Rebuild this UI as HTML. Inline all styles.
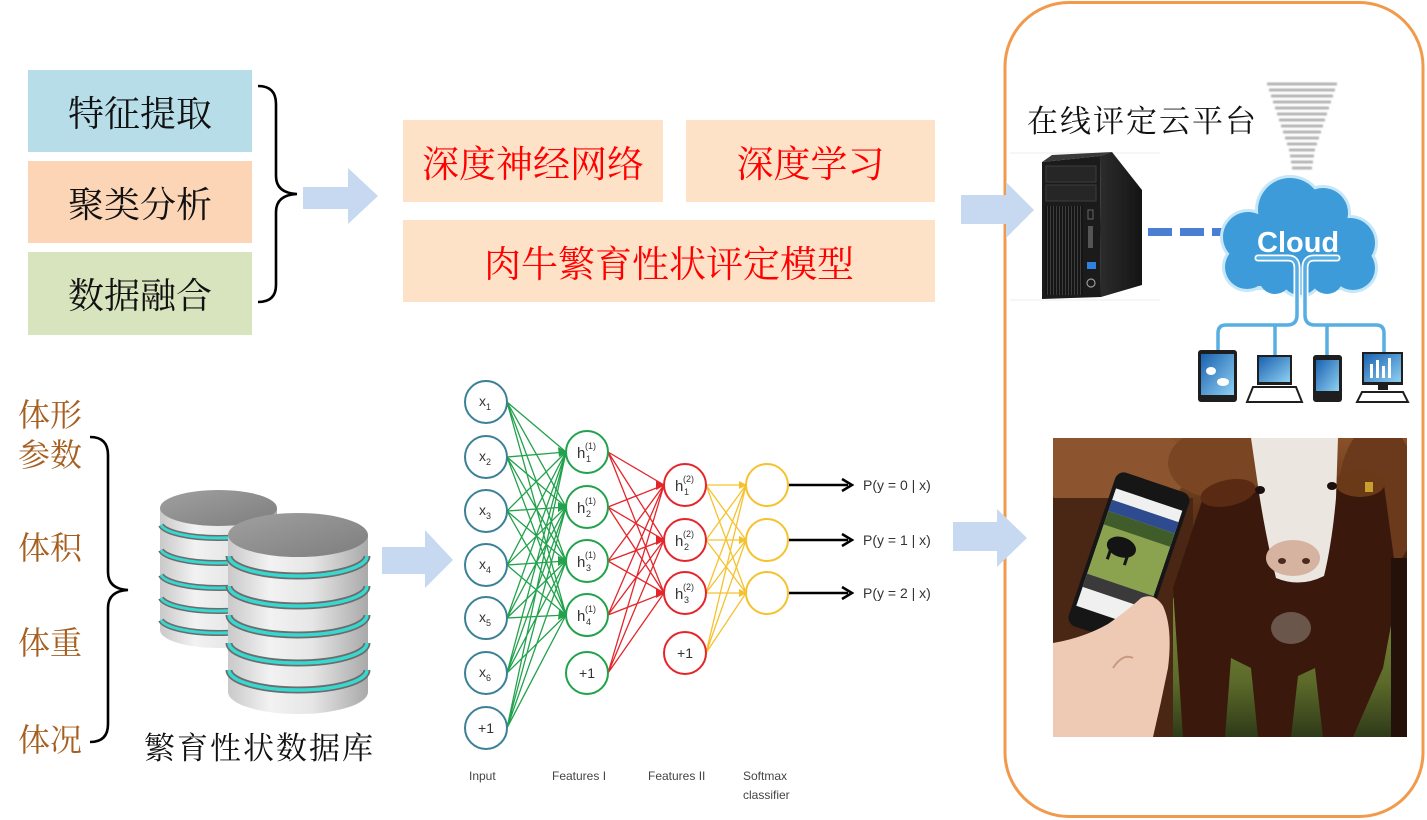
<!DOCTYPE html>
<html><head><meta charset="utf-8">
<style>
html,body{margin:0;padding:0;background:#fff;}
#c{position:relative;width:1427px;height:820px;overflow:hidden;background:#fff;}
.b{position:absolute;display:flex;align-items:center;justify-content:center;font-family:"Liberation Serif","Noto Serif CJK SC",serif;white-space:nowrap;}
.k{color:#111;font-size:36px;}
.r{color:#f00;font-size:37px;background:#fde2c7;}
.t{position:absolute;font-family:"Liberation Serif","Noto Serif CJK SC",serif;white-space:nowrap;line-height:1;}
.br{color:#a65f20;font-size:32px;}
svg{position:absolute;left:0;top:0;}
</style></head><body><div id="c">
<svg width="1427" height="820" viewBox="0 0 1427 820" xmlns="http://www.w3.org/2000/svg">
<defs>
<linearGradient id="cyl" x1="0" x2="1" y1="0" y2="0">
<stop offset="0" stop-color="#c9c9c9"/><stop offset="0.3" stop-color="#f2f2f2"/><stop offset="0.6" stop-color="#e6e6e6"/><stop offset="1" stop-color="#a9a9a9"/></linearGradient>
<linearGradient id="ctop" x1="0" x2="1" y1="0" y2="1">
<stop offset="0" stop-color="#a0a0a0"/><stop offset="1" stop-color="#7e7e7e"/></linearGradient>
<linearGradient id="scr" x1="0" x2="1" y1="0" y2="1">
<stop offset="0" stop-color="#1a62b0"/><stop offset="1" stop-color="#8fd0f2"/></linearGradient>
<linearGradient id="side" x1="0" x2="1"><stop offset="0" stop-color="#2c2c2c"/><stop offset="1" stop-color="#141414"/></linearGradient>
<linearGradient id="cowTop" x1="0" x2="0" y1="0" y2="1"><stop offset="0" stop-color="#8a5129"/><stop offset="1" stop-color="#45220f"/></linearGradient>
<linearGradient id="grass" x1="0" x2="0" y1="0" y2="1"><stop offset="0" stop-color="#7d8c3c"/><stop offset="0.6" stop-color="#5c6a2a"/><stop offset="1" stop-color="#2f3a18"/></linearGradient>
<filter id="bl"><feGaussianBlur stdDeviation="0.9"/></filter>
<pattern id="vent" width="3" height="10" patternUnits="userSpaceOnUse"><rect width="3" height="10" fill="#151515"/><rect width="1" height="10" fill="#3d3d3d"/></pattern>
</defs>

<!-- orange frame -->
<rect x="1005" y="2.5" width="418" height="814" rx="64" fill="none" stroke="#f29a4c" stroke-width="3"/>

<!-- braces -->
<path d="M258,86 Q276,86 276,104 L276,176 Q276,193 297,194 Q276,195 276,212 L276,285 Q276,302 258,302" fill="none" stroke="#000" stroke-width="2.6"/>
<path d="M90,437 Q108,437 108,455 L108,572 Q108,589 128,590 Q108,591 108,608 L108,724 Q108,742 90,742" fill="none" stroke="#000" stroke-width="2.6"/>

<!-- block arrows -->
<g fill="#c6d9f0">
<polygon points="303,187 348,187 348,168 378,196 348,224 348,209 303,209"/>
<polygon points="382,547 425,547 425,530 453,560 425,588 425,574 382,574"/>
<polygon points="961,195 1006,195 1006,182 1034,210 1006,238 1006,224 961,224"/>
<polygon points="953,522 997,522 997,509 1027,538 997,567 997,551 953,551"/>
</g>

<!-- database cylinders -->
<g>
<rect x="160" y="508" width="117" height="122" fill="url(#cyl)"/>
<ellipse cx="218.5" cy="630" rx="58.5" ry="18" fill="url(#cyl)"/>
<g fill="none">
<path d="M161,525 A58 15 0 0 0 276,525" stroke="#6c6c6c" stroke-width="6"/><path d="M161,525 A58 15 0 0 0 276,525" stroke="#36d8cf" stroke-width="3"/>
<path d="M161,550 A58 15 0 0 0 276,550" stroke="#6c6c6c" stroke-width="6"/><path d="M161,550 A58 15 0 0 0 276,550" stroke="#36d8cf" stroke-width="3"/>
<path d="M161,575 A58 15 0 0 0 276,575" stroke="#6c6c6c" stroke-width="6"/><path d="M161,575 A58 15 0 0 0 276,575" stroke="#36d8cf" stroke-width="3"/>
<path d="M161,598 A58 15 0 0 0 276,598" stroke="#6c6c6c" stroke-width="6"/><path d="M161,598 A58 15 0 0 0 276,598" stroke="#36d8cf" stroke-width="3"/>
<path d="M161,620 A58 15 0 0 0 276,620" stroke="#6c6c6c" stroke-width="6"/><path d="M161,620 A58 15 0 0 0 276,620" stroke="#36d8cf" stroke-width="3"/>
</g>
<ellipse cx="218.5" cy="508" rx="58.5" ry="18" fill="url(#ctop)"/>

<rect x="228" y="535" width="140" height="157" fill="url(#cyl)"/>
<ellipse cx="298" cy="692" rx="70" ry="22" fill="url(#cyl)"/>
<g fill="none">
<path d="M229,556 A69 20 0 0 0 367,556" stroke="#6c6c6c" stroke-width="7"/><path d="M229,556 A69 20 0 0 0 367,556" stroke="#36d8cf" stroke-width="3.5"/>
<path d="M229,586 A69 20 0 0 0 367,586" stroke="#6c6c6c" stroke-width="7"/><path d="M229,586 A69 20 0 0 0 367,586" stroke="#36d8cf" stroke-width="3.5"/>
<path d="M229,615 A69 20 0 0 0 367,615" stroke="#6c6c6c" stroke-width="7"/><path d="M229,615 A69 20 0 0 0 367,615" stroke="#36d8cf" stroke-width="3.5"/>
<path d="M229,643 A69 20 0 0 0 367,643" stroke="#6c6c6c" stroke-width="7"/><path d="M229,643 A69 20 0 0 0 367,643" stroke="#36d8cf" stroke-width="3.5"/>
<path d="M229,670 A69 20 0 0 0 367,670" stroke="#6c6c6c" stroke-width="7"/><path d="M229,670 A69 20 0 0 0 367,670" stroke="#36d8cf" stroke-width="3.5"/>
</g>
<ellipse cx="298" cy="535" rx="70" ry="22" fill="url(#ctop)"/>
</g>

<!-- neural network -->
<g fill="none" stroke-width="1.3">
<path stroke="#22a24c" d="M507 402L566 452M507 402L566 507M507 402L566 561M507 402L566 615M507 457L566 452M507 457L566 507M507 457L566 561M507 457L566 615M507 511L566 452M507 511L566 507M507 511L566 561M507 511L566 615M507 565L566 452M507 565L566 507M507 565L566 561M507 565L566 615M507 618L566 452M507 618L566 507M507 618L566 561M507 618L566 615M507 673L566 452M507 673L566 507M507 673L566 561M507 673L566 615M507 728L566 452M507 728L566 507M507 728L566 561M507 728L566 615"/>
<path stroke="#e4262b" d="M608 452L664 485M608 452L664 540M608 452L664 593M608 507L664 485M608 507L664 540M608 507L664 593M608 561L664 485M608 561L664 540M608 561L664 593M608 615L664 485M608 615L664 540M608 615L664 593M608 673L664 485M608 673L664 540M608 673L664 593"/>
<path stroke="#f5c22e" d="M706 485L746 485M706 485L746 540M706 485L746 593M706 540L746 485M706 540L746 540M706 540L746 593M706 593L746 485M706 593L746 540M706 593L746 593M706 653L746 485M706 653L746 540M706 653L746 593"/>
</g>
<g fill="#22a24c">
<polygon points="567,452 558,447 559,457"/><polygon points="567,507 558,502 558,512"/><polygon points="567,561 558,556 558,566"/><polygon points="567,615 559,610 558,620"/>
</g>
<g fill="#e4262b">
<polygon points="665,485 656,480 656,490"/><polygon points="665,540 656,535 656,545"/><polygon points="665,593 656,588 656,598"/>
</g>
<g fill="#f5c22e">
<polygon points="747,485 739,481 739,489"/><polygon points="747,540 739,536 739,544"/><polygon points="747,593 739,589 739,597"/>
</g>
<g stroke="#000" stroke-width="2.5">
<line x1="788" y1="485" x2="848" y2="485"/><line x1="788" y1="540" x2="848" y2="540"/><line x1="788" y1="593" x2="848" y2="593"/>
</g>
<g fill="none" stroke="#000" stroke-width="2.5">
<polyline points="842,479 852,485 842,491"/><polyline points="842,534 852,540 842,546"/><polyline points="842,587 852,593 842,599"/>
</g>
<g fill="#fff" stroke-width="2">
<g stroke="#3a8196">
<circle cx="486" cy="402" r="21"/><circle cx="486" cy="457" r="21"/><circle cx="486" cy="511" r="21"/><circle cx="486" cy="565" r="21"/><circle cx="486" cy="618" r="21"/><circle cx="486" cy="673" r="21"/><circle cx="486" cy="728" r="21"/>
</g>
<g stroke="#22a24c">
<circle cx="587" cy="452" r="21"/><circle cx="587" cy="507" r="21"/><circle cx="587" cy="561" r="21"/><circle cx="587" cy="615" r="21"/><circle cx="587" cy="673" r="21"/>
</g>
<g stroke="#e4262b">
<circle cx="685" cy="485" r="21"/><circle cx="685" cy="540" r="21"/><circle cx="685" cy="593" r="21"/><circle cx="685" cy="653" r="21"/>
</g>
<g stroke="#f5c22e">
<circle cx="767" cy="485" r="21"/><circle cx="767" cy="540" r="21"/><circle cx="767" cy="593" r="21"/>
</g>
</g>
<g font-family="Liberation Sans, sans-serif" fill="#333" font-size="14">
<text x="479" y="406">x<tspan font-size="9" dy="4">1</tspan></text>
<text x="479" y="461">x<tspan font-size="9" dy="4">2</tspan></text>
<text x="479" y="515">x<tspan font-size="9" dy="4">3</tspan></text>
<text x="479" y="569">x<tspan font-size="9" dy="4">4</tspan></text>
<text x="479" y="622">x<tspan font-size="9" dy="4">5</tspan></text>
<text x="479" y="677">x<tspan font-size="9" dy="4">6</tspan></text>
<text x="486" y="733" text-anchor="middle">+1</text>
<text x="587" y="678" text-anchor="middle">+1</text>
<text x="685" y="658" text-anchor="middle">+1</text>
<g font-size="15">
<text x="577" y="458">h</text><text x="577" y="513">h</text><text x="577" y="567">h</text><text x="577" y="621">h</text>
<text x="675" y="491">h</text><text x="675" y="546">h</text><text x="675" y="599">h</text>
</g>
<g font-size="9">
<text x="585" y="449">(1)</text><text x="586" y="462">1</text>
<text x="585" y="504">(1)</text><text x="586" y="517">2</text>
<text x="585" y="558">(1)</text><text x="586" y="571">3</text>
<text x="585" y="612">(1)</text><text x="586" y="625">4</text>
<text x="683" y="482">(2)</text><text x="684" y="495">1</text>
<text x="683" y="537">(2)</text><text x="684" y="550">2</text>
<text x="683" y="590">(2)</text><text x="684" y="603">3</text>
</g>
<g font-size="14">
<text x="863" y="490">P(y = 0 | x)</text>
<text x="863" y="545">P(y = 1 | x)</text>
<text x="863" y="598">P(y = 2 | x)</text>
</g>
<g font-size="12" fill="#444">
<text x="469" y="780">Input</text>
<text x="552" y="780">Features I</text>
<text x="648" y="780">Features II</text>
<text x="743" y="780">Softmax</text>
<text x="743" y="799">classifier</text>
</g>
</g>

<!-- server -->
<line x1="1010" y1="153" x2="1160" y2="153" stroke="#eee" stroke-width="1"/>
<line x1="1010" y1="300" x2="1160" y2="300" stroke="#eee" stroke-width="1"/>
<polygon points="1100,156 1112,152 1142,190 1142,285 1101,297" fill="url(#side)"/>
<polygon points="1042,162 1052,155 1112,152 1100,156" fill="#3a3a3a"/>
<polygon points="1042,162 1100,156 1101,297 1042,299" fill="#1b1b1b"/>
<rect x="1046" y="166" width="50" height="16" fill="#262626" stroke="#3c3c3c"/>
<rect x="1046" y="185" width="50" height="16" fill="#262626" stroke="#3c3c3c"/>
<rect x="1045" y="206" width="38" height="89" fill="url(#vent)"/>
<rect x="1088" y="210" width="5" height="9" fill="none" stroke="#666" stroke-width="1"/>
<rect x="1088" y="226" width="5" height="22" fill="#555"/>
<rect x="1087" y="262" width="9" height="7" fill="#2f80e0"/>
<circle cx="1091" cy="283" r="4" fill="none" stroke="#999" stroke-width="1.2"/>

<!-- dashed link -->
<line x1="1148" y1="232" x2="1256" y2="232" stroke="#4a7ed0" stroke-width="8" stroke-dasharray="24 8"/>

<!-- signal waves -->
<g stroke="#b5b5b5" stroke-width="3" filter="url(#bl)">
<line x1="1267" y1="84" x2="1337" y2="84"/><line x1="1269" y1="90" x2="1335" y2="90"/><line x1="1271" y1="96" x2="1333" y2="96"/><line x1="1273" y1="102" x2="1331" y2="102"/><line x1="1275" y1="108" x2="1329" y2="108"/><line x1="1277" y1="114" x2="1327" y2="114"/><line x1="1279" y1="120" x2="1325" y2="120"/><line x1="1281" y1="126" x2="1323" y2="126"/><line x1="1283" y1="132" x2="1321" y2="132"/><line x1="1285" y1="138" x2="1319" y2="138"/><line x1="1287" y1="144" x2="1317" y2="144"/><line x1="1289" y1="150" x2="1315" y2="150"/><line x1="1290" y1="156" x2="1314" y2="156"/><line x1="1291" y1="162" x2="1313" y2="162"/><line x1="1292" y1="168" x2="1312" y2="168"/>
</g>

<!-- cloud -->
<g fill="#c5e7f8">
<circle cx="1290" cy="210" r="35"/><circle cx="1323" cy="213" r="28"/><circle cx="1248" cy="237" r="28"/><circle cx="1350" cy="243" r="28"/><circle cx="1247" cy="267" r="25"/><circle cx="1353" cy="268" r="25"/><circle cx="1300" cy="275" r="23"/><rect x="1245" y="228" width="110" height="62"/>
</g>
<g fill="#3d9bd9">
<circle cx="1290" cy="210" r="32"/><circle cx="1323" cy="213" r="25"/><circle cx="1248" cy="237" r="25"/><circle cx="1350" cy="243" r="25"/><circle cx="1247" cy="267" r="22"/><circle cx="1353" cy="268" r="22"/><circle cx="1300" cy="275" r="20"/><circle cx="1275" cy="278" r="16"/><circle cx="1327" cy="278" r="16"/><rect x="1247" y="228" width="106" height="58"/>
</g>
<text x="1257" y="252" font-family="Liberation Sans, sans-serif" font-weight="bold" font-size="29" fill="#fff">Cloud</text>
<g fill="none" stroke-linecap="round">
<path d="M1258,258 L1288,258 Q1297,258 1297,268 L1297,315 Q1297,325 1287,325 L1226,325 Q1218,325 1218,333 L1218,350 M1275,325 L1275,355 M1337,258 L1314,258 Q1305,258 1305,268 L1305,315 Q1305,325 1315,325 L1376,325 Q1384,325 1384,333 L1384,352 M1327,325 L1327,355" stroke="#fff" stroke-width="7"/>
<path d="M1258,258 L1288,258 Q1297,258 1297,268 L1297,315 Q1297,325 1287,325 L1226,325 Q1218,325 1218,333 L1218,350 M1275,325 L1275,355 M1337,258 L1314,258 Q1305,258 1305,268 L1305,315 Q1305,325 1315,325 L1376,325 Q1384,325 1384,333 L1384,352 M1327,325 L1327,355" stroke="#56aee2" stroke-width="3.5"/>
</g>

<!-- devices -->
<rect x="1198" y="350" width="39" height="52" rx="3" fill="#1e1e1e"/>
<rect x="1201" y="354" width="33" height="41" fill="url(#scr)"/>
<ellipse cx="1211" cy="371" rx="5" ry="4" fill="#fff"/><ellipse cx="1223" cy="382" rx="6" ry="4" fill="#fff"/>
<rect x="1257" y="355" width="35" height="30" fill="#1e1e1e"/>
<rect x="1259" y="357" width="31" height="25" fill="url(#scr)"/>
<polygon points="1253,387 1296,387 1302,402 1247,402" fill="#fff" stroke="#1e1e1e" stroke-width="2"/>
<rect x="1313" y="355" width="29" height="47" rx="3" fill="#1e1e1e"/>
<rect x="1316" y="360" width="23" height="31" fill="url(#scr)"/>
<rect x="1362" y="352" width="41" height="33" fill="#1e1e1e"/>
<rect x="1364" y="354" width="37" height="28" fill="url(#scr)"/>
<rect x="1370" y="364" width="3" height="14" fill="#fff"/><rect x="1376" y="360" width="3" height="18" fill="#fff"/><rect x="1382" y="366" width="3" height="12" fill="#fff"/><rect x="1388" y="358" width="3" height="20" fill="#fff"/>
<rect x="1378" y="385" width="10" height="5" fill="#1e1e1e"/>
<polygon points="1362,392 1403,392 1408,402 1357,402" fill="#fff" stroke="#1e1e1e" stroke-width="2"/>

<!-- cow photo -->
<svg x="1053" y="438" width="354" height="299" viewBox="0 0 354 299">
<rect width="354" height="299" fill="#3a1f10"/>
<rect width="354" height="120" fill="url(#cowTop)"/>
<ellipse cx="60" cy="30" rx="75" ry="48" fill="#8c5530"/>
<ellipse cx="165" cy="25" rx="50" ry="35" fill="#7a4522"/>
<ellipse cx="325" cy="60" rx="40" ry="75" fill="#6b3a1c"/>
<rect x="0" y="60" width="140" height="239" fill="#4a2614"/>
<rect x="120" y="160" width="234" height="139" fill="url(#grass)"/>
<path d="M150,60 L330,40 L345,150 L330,230 L300,299 L270,299 L262,230 L245,238 L238,299 L205,299 L198,230 L178,220 L172,299 L130,299 L120,150 Z" fill="#3a180b"/>
<rect x="338" y="120" width="16" height="179" fill="#24120a"/>
<ellipse cx="238" cy="190" rx="20" ry="16" fill="#8c8078" opacity="0.6"/>
<ellipse cx="175" cy="55" rx="28" ry="13" fill="#5a2a12" transform="rotate(-12 175 55)"/>
<ellipse cx="307" cy="45" rx="25" ry="14" fill="#6a3a18"/>
<rect x="312" y="44" width="8" height="10" fill="#c8a030"/>
<path d="M198,0 L285,0 L283,60 Q279,105 271,138 Q247,150 223,140 Q213,100 206,55 Z" fill="#ebe6df"/>
<ellipse cx="240" cy="120" rx="27" ry="18" fill="#d6b2a0"/>
<ellipse cx="229" cy="123" rx="4" ry="3" fill="#4a2a20"/><ellipse cx="253" cy="123" rx="4" ry="3" fill="#4a2a20"/>
<ellipse cx="207" cy="52" rx="5" ry="4" fill="#1a1010"/><ellipse cx="279" cy="48" rx="5" ry="4" fill="#1a1010"/>
<g transform="translate(65,32) rotate(18.7)">
<rect x="0" y="0" width="78" height="162" rx="9" fill="#161616"/>
<rect x="4" y="18" width="70" height="124" fill="#f0f0f0"/>
<rect x="4" y="30" width="70" height="12" fill="#2d4b8e"/>
<rect x="4" y="42" width="70" height="66" fill="#8ba24f"/>
<rect x="4" y="42" width="70" height="14" fill="#3f5c2a"/>
<ellipse cx="28" cy="72" rx="15" ry="10" fill="#141414"/>
<rect x="17" y="74" width="3" height="14" fill="#141414"/><rect x="35" y="74" width="3" height="14" fill="#141414"/>
<rect x="4" y="108" width="70" height="14" fill="#3a3a3a"/>
</g>
<path d="M0,205 Q30,200 55,186 Q75,172 88,160 Q101,154 110,168 Q120,190 115,230 Q108,265 100,299 L0,299 Z" fill="#eecab4"/>
<path d="M60,230 Q70,215 80,220" fill="none" stroke="#c89a80" stroke-width="2"/>
</svg>
</svg>

<!-- left boxes -->
<div class="b k" style="left:28px;top:70px;width:224px;height:82px;background:#b7dde8;">特征提取</div>
<div class="b k" style="left:28px;top:161px;width:224px;height:82px;background:#fbd5b5;">聚类分析</div>
<div class="b k" style="left:28px;top:252px;width:224px;height:83px;background:#d7e4bd;">数据融合</div>

<!-- middle boxes -->
<div class="b r" style="left:403px;top:120px;width:260px;height:82px;">深度神经网络</div>
<div class="b r" style="left:686px;top:120px;width:249px;height:82px;">深度学习</div>
<div class="b r" style="left:403px;top:220px;width:532px;height:82px;">肉牛繁育性状评定模型</div>

<!-- labels -->
<div class="t" style="left:1027px;top:106px;font-size:31px;letter-spacing:2px;color:#111;">在线评定云平台</div>
<div class="t" style="left:144px;top:733px;font-size:31px;letter-spacing:2px;color:#111;">繁育性状数据库</div>
<div class="t br" style="left:18px;top:399px;">体形</div>
<div class="t br" style="left:18px;top:439px;">参数</div>
<div class="t br" style="left:18px;top:532px;">体积</div>
<div class="t br" style="left:18px;top:627px;">体重</div>
<div class="t br" style="left:18px;top:724px;">体况</div>
</div></body></html>
